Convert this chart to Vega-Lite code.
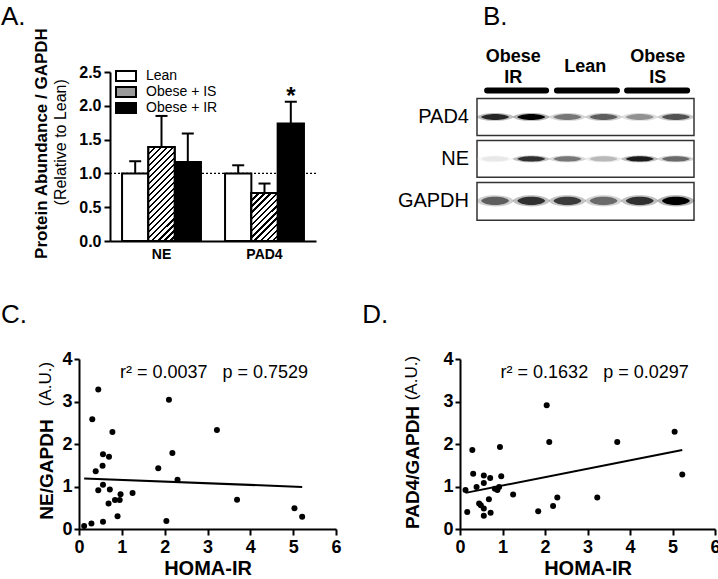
{
  "$schema": "https://vega.github.io/schema/vega-lite/v6.json",
  "background": "white",
  "padding": {"left": 0, "top": 4, "right": 0, "bottom": 0},
  "config": {
    "font": "Liberation Sans",
    "view": {"stroke": null},
    "axis": {"domainColor": "black", "domainWidth": 2, "tickColor": "black", "tickWidth": 2, "labelColor": "black", "titleColor": "black", "grid": false, "labelFont": "Liberation Sans", "titleFont": "Liberation Sans", "labelFontWeight": "bold", "titleFontWeight": "bold", "labelFlush": false, "labelOverlap": false},
    "axisY": {"tickCount": 6},
    "title": {"font": "Liberation Sans", "fontSize": 26, "fontWeight": "normal", "anchor": "start", "frame": "group", "baseline": "alphabetic", "color": "black"},
    "text": {"font": "Liberation Sans", "color": "black"}
  },
  "datasets": {
    "bars": [
      {"target": "NE", "group": "Lean", "mean": 1.0, "upper": 1.18},
      {"target": "NE", "group": "Obese + IS", "mean": 1.39, "upper": 1.85},
      {"target": "NE", "group": "Obese + IR", "mean": 1.17, "upper": 1.59},
      {"target": "PAD4", "group": "Lean", "mean": 1.0, "upper": 1.12},
      {"target": "PAD4", "group": "Obese + IS", "mean": 0.71, "upper": 0.85},
      {"target": "PAD4", "group": "Obese + IR", "mean": 1.74, "upper": 2.06}
    ],
    "blotrows": [
      {"protein": "PAD4", "row": 0, "lo": -0.44, "hi": 0.44},
      {"protein": "NE", "row": 1, "lo": 0.56, "hi": 1.44},
      {"protein": "GAPDH", "row": 2, "lo": 1.56, "hi": 2.46}
    ],
    "bands": [
      {"protein": "PAD4", "row": 0, "lane": 1, "intensity": 0.85},
      {"protein": "PAD4", "row": 0, "lane": 2, "intensity": 1.0},
      {"protein": "PAD4", "row": 0, "lane": 3, "intensity": 0.5},
      {"protein": "PAD4", "row": 0, "lane": 4, "intensity": 0.6},
      {"protein": "PAD4", "row": 0, "lane": 5, "intensity": 0.4},
      {"protein": "PAD4", "row": 0, "lane": 6, "intensity": 0.65},
      {"protein": "NE", "row": 1, "lane": 1, "intensity": 0.08},
      {"protein": "NE", "row": 1, "lane": 2, "intensity": 0.8},
      {"protein": "NE", "row": 1, "lane": 3, "intensity": 0.5},
      {"protein": "NE", "row": 1, "lane": 4, "intensity": 0.25},
      {"protein": "NE", "row": 1, "lane": 5, "intensity": 0.9},
      {"protein": "NE", "row": 1, "lane": 6, "intensity": 0.55},
      {"protein": "GAPDH", "row": 2, "lane": 1, "intensity": 0.6},
      {"protein": "GAPDH", "row": 2, "lane": 2, "intensity": 0.8},
      {"protein": "GAPDH", "row": 2, "lane": 3, "intensity": 0.75},
      {"protein": "GAPDH", "row": 2, "lane": 4, "intensity": 0.55},
      {"protein": "GAPDH", "row": 2, "lane": 5, "intensity": 0.8},
      {"protein": "GAPDH", "row": 2, "lane": 6, "intensity": 1.0}
    ],
    "headers": [
      {"label": "Obese\nIR", "start": 0.78, "end": 2.41, "mid": 1.5, "ty": -1.42},
      {"label": "Lean", "start": 2.71, "end": 4.37, "mid": 3.49, "ty": -1.18},
      {"label": "Obese\nIS", "start": 4.65, "end": 6.31, "mid": 5.5, "ty": -1.42}
    ],
    "ne": [
      {"homa": 0.12, "value": 0.07}, {"homa": 0.29, "value": 0.13}, {"homa": 0.31, "value": 2.58}, {"homa": 0.39, "value": 1.36},
      {"homa": 0.45, "value": 3.28}, {"homa": 0.45, "value": 0.91}, {"homa": 0.55, "value": 1.49}, {"homa": 0.56, "value": 1.76},
      {"homa": 0.56, "value": 1.04}, {"homa": 0.56, "value": 0.17}, {"homa": 0.7, "value": 1.7}, {"homa": 0.72, "value": 0.93},
      {"homa": 0.69, "value": 0.6}, {"homa": 0.78, "value": 2.28}, {"homa": 0.84, "value": 0.68}, {"homa": 0.95, "value": 0.68},
      {"homa": 0.97, "value": 0.82}, {"homa": 0.9, "value": 0.3}, {"homa": 1.25, "value": 0.85}, {"homa": 1.85, "value": 1.43},
      {"homa": 2.04, "value": 0.19}, {"homa": 2.1, "value": 3.04}, {"homa": 2.18, "value": 1.79}, {"homa": 2.3, "value": 1.16},
      {"homa": 3.22, "value": 2.33}, {"homa": 3.69, "value": 0.69}, {"homa": 5.03, "value": 0.49}, {"homa": 5.21, "value": 0.29}
    ],
    "nefit": [{"homa": 0.12, "value": 1.19}, {"homa": 5.21, "value": 0.99}],
    "pad4": [
      {"homa": 0.13, "value": 0.92}, {"homa": 0.17, "value": 0.4}, {"homa": 0.29, "value": 1.86}, {"homa": 0.31, "value": 1.3},
      {"homa": 0.39, "value": 0.99}, {"homa": 0.45, "value": 0.6}, {"homa": 0.49, "value": 0.56}, {"homa": 0.56, "value": 0.48},
      {"homa": 0.56, "value": 0.31}, {"homa": 0.56, "value": 1.26}, {"homa": 0.56, "value": 1.08}, {"homa": 0.71, "value": 1.2},
      {"homa": 0.68, "value": 0.7}, {"homa": 0.72, "value": 0.38}, {"homa": 0.82, "value": 0.95}, {"homa": 0.88, "value": 0.92},
      {"homa": 0.92, "value": 0.99}, {"homa": 0.94, "value": 1.93}, {"homa": 0.97, "value": 1.24}, {"homa": 1.25, "value": 0.81},
      {"homa": 1.84, "value": 0.42}, {"homa": 2.04, "value": 2.91}, {"homa": 2.1, "value": 2.05}, {"homa": 2.19, "value": 0.54},
      {"homa": 2.29, "value": 0.74}, {"homa": 3.23, "value": 0.74}, {"homa": 3.7, "value": 2.05}, {"homa": 5.05, "value": 2.29},
      {"homa": 5.23, "value": 1.28}
    ],
    "pad4fit": [{"homa": 0.13, "value": 0.85}, {"homa": 5.23, "value": 1.86}]
  },
  "spacing": 41,
  "vconcat": [
    {
      "spacing": 0,
      "hconcat": [
        {"width": 1, "height": 1, "data": {"values": [{}]}, "mark": {"type": "text", "text": ""}},
        {
          "spacing": 80,
          "hconcat": [
            {
              "width": 206,
              "height": 169,
              "title": {"text": "A.", "dx": -109, "offset": -3},
              "layer": [
                {
                  "data": {"values": [{}]},
                  "mark": {"type": "rule", "strokeDash": [2, 2], "strokeWidth": 1.2, "color": "black"},
                  "encoding": {"y": {"datum": 1, "type": "quantitative", "scale": {"domain": [0, 2.5], "nice": false},
                    "axis": {"title": "Protein Abundance / GAPDH", "values": [0, 0.5, 1, 1.5, 2, 2.5], "tickCount": 6, "format": ".1f", "labelFontSize": 16, "tickSize": 6, "labelPadding": 3, "titleFontSize": 17, "titlePadding": 28, "titleY": 71, "titleAngle": 270, "titleAlign": "center", "titleBaseline": "bottom"}}}
                },
                {
                  "data": {"name": "bars"},
                  "mark": {"type": "bar", "stroke": "black", "strokeWidth": 2},
                  "encoding": {
                    "x": {"field": "target", "type": "nominal", "scale": {"paddingInner": 0, "paddingOuter": 0},
                          "axis": {"title": null, "labelAngle": 0, "labelFontSize": 14, "ticks": false, "labelPadding": 6}},
                    "xOffset": {"field": "group", "type": "nominal", "scale": {"domain": ["Lean", "Obese + IS", "Obese + IR"], "paddingInner": 0, "paddingOuter": 0.458}},
                    "y": {"field": "mean", "type": "quantitative", "scale": {"domain": [0, 2.5], "nice": false},
                          "axis": {"title": "Protein Abundance / GAPDH", "values": [0, 0.5, 1, 1.5, 2, 2.5], "tickCount": 6, "format": ".1f", "labelFontSize": 16, "tickSize": 6, "labelPadding": 3, "titleFontSize": 17, "titlePadding": 28, "titleY": 71, "titleAngle": 270, "titleAlign": "center", "titleBaseline": "bottom"}},
                    "fill": {"field": "group", "type": "nominal",
                             "scale": {"domain": ["Lean", "Obese + IS", "Obese + IR"], "range": ["white", "#9a9a9a", "black"]},
                             "legend": {"orient": "none", "legendX": 119, "legendY": -3, "title": null, "symbolType": "M-2,-1H2V1H-2Z", "symbolSize": 100, "symbolStrokeWidth": 2, "symbolStrokeColor": "black", "labelFontSize": 14, "labelFont": "Liberation Sans", "labelColor": "black", "labelOffset": 13, "rowPadding": -4, "padding": 0}}
                  }
                },
                {
                  "data": {"name": "bars"},
                  "transform": [{"filter": "datum.group === 'Obese + IS' && datum.target === 'NE'"}],
                  "mark": {"type": "bar", "stroke": "black", "strokeWidth": 2, "fill": {"gradient": "linear", "x1": 0, "y1": 0, "x2": 0.3317, "y2": 1.1868, "stops": [
                    {"offset": 0, "color": "#000"}, {"offset": 0.02, "color": "#000"}, {"offset": 0.02, "color": "#fff"}, {"offset": 0.05, "color": "#fff"},
                    {"offset": 0.05, "color": "#000"}, {"offset": 0.07, "color": "#000"}, {"offset": 0.07, "color": "#fff"}, {"offset": 0.1, "color": "#fff"},
                    {"offset": 0.1, "color": "#000"}, {"offset": 0.12, "color": "#000"}, {"offset": 0.12, "color": "#fff"}, {"offset": 0.15, "color": "#fff"},
                    {"offset": 0.15, "color": "#000"}, {"offset": 0.17, "color": "#000"}, {"offset": 0.17, "color": "#fff"}, {"offset": 0.2, "color": "#fff"},
                    {"offset": 0.2, "color": "#000"}, {"offset": 0.22, "color": "#000"}, {"offset": 0.22, "color": "#fff"}, {"offset": 0.25, "color": "#fff"},
                    {"offset": 0.25, "color": "#000"}, {"offset": 0.27, "color": "#000"}, {"offset": 0.27, "color": "#fff"}, {"offset": 0.3, "color": "#fff"},
                    {"offset": 0.3, "color": "#000"}, {"offset": 0.32, "color": "#000"}, {"offset": 0.32, "color": "#fff"}, {"offset": 0.35, "color": "#fff"},
                    {"offset": 0.35, "color": "#000"}, {"offset": 0.37, "color": "#000"}, {"offset": 0.37, "color": "#fff"}, {"offset": 0.4, "color": "#fff"},
                    {"offset": 0.4, "color": "#000"}, {"offset": 0.42, "color": "#000"}, {"offset": 0.42, "color": "#fff"}, {"offset": 0.45, "color": "#fff"},
                    {"offset": 0.45, "color": "#000"}, {"offset": 0.47, "color": "#000"}, {"offset": 0.47, "color": "#fff"}, {"offset": 0.5, "color": "#fff"},
                    {"offset": 0.5, "color": "#000"}, {"offset": 0.52, "color": "#000"}, {"offset": 0.52, "color": "#fff"}, {"offset": 0.55, "color": "#fff"},
                    {"offset": 0.55, "color": "#000"}, {"offset": 0.57, "color": "#000"}, {"offset": 0.57, "color": "#fff"}, {"offset": 0.6, "color": "#fff"},
                    {"offset": 0.6, "color": "#000"}, {"offset": 0.62, "color": "#000"}, {"offset": 0.62, "color": "#fff"}, {"offset": 0.65, "color": "#fff"},
                    {"offset": 0.65, "color": "#000"}, {"offset": 0.67, "color": "#000"}, {"offset": 0.67, "color": "#fff"}, {"offset": 0.7, "color": "#fff"},
                    {"offset": 0.7, "color": "#000"}, {"offset": 0.72, "color": "#000"}, {"offset": 0.72, "color": "#fff"}, {"offset": 0.75, "color": "#fff"},
                    {"offset": 0.75, "color": "#000"}, {"offset": 0.77, "color": "#000"}, {"offset": 0.77, "color": "#fff"}, {"offset": 0.8, "color": "#fff"},
                    {"offset": 0.8, "color": "#000"}, {"offset": 0.82, "color": "#000"}, {"offset": 0.82, "color": "#fff"}, {"offset": 0.85, "color": "#fff"},
                    {"offset": 0.85, "color": "#000"}, {"offset": 0.87, "color": "#000"}, {"offset": 0.87, "color": "#fff"}, {"offset": 0.9, "color": "#fff"},
                    {"offset": 0.9, "color": "#000"}, {"offset": 0.92, "color": "#000"}, {"offset": 0.92, "color": "#fff"}, {"offset": 0.95, "color": "#fff"},
                    {"offset": 0.95, "color": "#000"}, {"offset": 0.97, "color": "#000"}, {"offset": 0.97, "color": "#fff"}, {"offset": 1, "color": "#fff"}]}},
                  "encoding": {
                    "x": {"field": "target", "type": "nominal"},
                    "xOffset": {"field": "group", "type": "nominal"},
                    "y": {"field": "mean", "type": "quantitative"}
                  }
                },
                {
                  "data": {"name": "bars"},
                  "transform": [{"filter": "datum.group === 'Obese + IS' && datum.target === 'PAD4'"}],
                  "mark": {"type": "bar", "stroke": "black", "strokeWidth": 2, "fill": {"gradient": "linear", "x1": 0, "y1": 0, "x2": 0.651, "y2": 1.191, "stops": [
                    {"offset": 0, "color": "#000"}, {"offset": 0.0333, "color": "#000"}, {"offset": 0.0333, "color": "#fff"}, {"offset": 0.0833, "color": "#fff"},
                    {"offset": 0.0833, "color": "#000"}, {"offset": 0.1167, "color": "#000"}, {"offset": 0.1167, "color": "#fff"}, {"offset": 0.1667, "color": "#fff"},
                    {"offset": 0.1667, "color": "#000"}, {"offset": 0.2, "color": "#000"}, {"offset": 0.2, "color": "#fff"}, {"offset": 0.25, "color": "#fff"},
                    {"offset": 0.25, "color": "#000"}, {"offset": 0.2833, "color": "#000"}, {"offset": 0.2833, "color": "#fff"}, {"offset": 0.3333, "color": "#fff"},
                    {"offset": 0.3333, "color": "#000"}, {"offset": 0.3667, "color": "#000"}, {"offset": 0.3667, "color": "#fff"}, {"offset": 0.4167, "color": "#fff"},
                    {"offset": 0.4167, "color": "#000"}, {"offset": 0.45, "color": "#000"}, {"offset": 0.45, "color": "#fff"}, {"offset": 0.5, "color": "#fff"},
                    {"offset": 0.5, "color": "#000"}, {"offset": 0.5333, "color": "#000"}, {"offset": 0.5333, "color": "#fff"}, {"offset": 0.5833, "color": "#fff"},
                    {"offset": 0.5833, "color": "#000"}, {"offset": 0.6167, "color": "#000"}, {"offset": 0.6167, "color": "#fff"}, {"offset": 0.6667, "color": "#fff"},
                    {"offset": 0.6667, "color": "#000"}, {"offset": 0.7, "color": "#000"}, {"offset": 0.7, "color": "#fff"}, {"offset": 0.75, "color": "#fff"},
                    {"offset": 0.75, "color": "#000"}, {"offset": 0.7833, "color": "#000"}, {"offset": 0.7833, "color": "#fff"}, {"offset": 0.8333, "color": "#fff"},
                    {"offset": 0.8333, "color": "#000"}, {"offset": 0.8667, "color": "#000"}, {"offset": 0.8667, "color": "#fff"}, {"offset": 0.9167, "color": "#fff"},
                    {"offset": 0.9167, "color": "#000"}, {"offset": 0.95, "color": "#000"}, {"offset": 0.95, "color": "#fff"}, {"offset": 1, "color": "#fff"}]}},
                  "encoding": {
                    "x": {"field": "target", "type": "nominal"},
                    "xOffset": {"field": "group", "type": "nominal"},
                    "y": {"field": "mean", "type": "quantitative"}
                  }
                },
                {
                  "data": {"name": "bars"},
                  "mark": {"type": "rule", "color": "black", "strokeWidth": 2},
                  "encoding": {
                    "x": {"field": "target", "type": "nominal"},
                    "xOffset": {"field": "group", "type": "nominal"},
                    "y": {"field": "mean", "type": "quantitative"},
                    "y2": {"field": "upper"}
                  }
                },
                {
                  "data": {"name": "bars"},
                  "mark": {"type": "tick", "color": "black", "thickness": 2, "size": 12, "opacity": 1},
                  "encoding": {
                    "x": {"field": "target", "type": "nominal"},
                    "xOffset": {"field": "group", "type": "nominal"},
                    "y": {"field": "upper", "type": "quantitative"}
                  }
                },
                {
                  "data": {"values": [{}]},
                  "mark": {"type": "text", "text": "*", "fontSize": 24, "fontWeight": "bold", "baseline": "alphabetic", "align": "center"},
                  "encoding": {
                    "x": {"datum": "PAD4", "type": "nominal"},
                    "xOffset": {"datum": "Obese + IR", "type": "nominal"},
                    "y": {"datum": 2.03, "type": "quantitative"}
                  }
                },
                {
                  "data": {"values": [{}]},
                  "mark": {"type": "text", "text": "(Relative to Lean)", "fontSize": 16, "angle": 270, "align": "center", "baseline": "middle", "dy": -100.5},
                  "encoding": {
                    "x": {"datum": "NE", "type": "nominal"},
                    "y": {"datum": 1.46, "type": "quantitative"}
                  }
                }
              ]
            },
            {
              "width": 217,
              "height": 169,
              "title": {"text": "B.", "dx": 6, "offset": 18},
              "layer": [
                {
                  "data": {"name": "blotrows"},
                  "mark": {"type": "rect", "fill": "white", "stroke": "#333", "strokeWidth": 1.5},
                  "encoding": {
                    "x": {"datum": 0.5, "type": "quantitative", "scale": {"domain": [0.5, 6.5], "nice": false, "zero": false}, "axis": null},
                    "x2": {"datum": 6.5},
                    "y": {"field": "lo", "type": "quantitative", "scale": {"domain": [-1.071, 2.957], "nice": false, "zero": false, "reverse": true}, "axis": null},
                    "y2": {"field": "hi"}
                  }
                },
                {
                  "data": {"name": "bands"},
                  "mark": {"type": "point", "filled": true, "size": 1400, "opacity": 0.3, "strokeWidth": 0},
                  "encoding": {
                    "x": {"field": "lane", "type": "quantitative"},
                    "y": {"field": "row", "type": "quantitative"},
                    "shape": {"field": "protein", "type": "nominal", "scale": {"domain": ["PAD4", "NE", "GAPDH"], "range": ["M-1,0C-0.7,-0.28 0.7,-0.28 1,0C0.7,0.28 -0.7,0.28 -1,0Z", "M-1,0C-0.7,-0.24 0.7,-0.24 1,0C0.7,0.24 -0.7,0.24 -1,0Z", "M-1,0C-0.8,-0.4 0.8,-0.4 1,0C0.8,0.4 -0.8,0.4 -1,0Z"]}, "legend": null},
                    "color": {"field": "intensity", "type": "quantitative", "scale": {"domain": [0, 1], "range": ["#ffffff", "#000000"]}, "legend": null}
                  }
                },
                {
                  "data": {"name": "bands"},
                  "mark": {"type": "point", "filled": true, "size": 784, "opacity": 1, "strokeWidth": 0},
                  "encoding": {
                    "x": {"field": "lane", "type": "quantitative"},
                    "y": {"field": "row", "type": "quantitative"},
                    "shape": {"field": "protein", "type": "nominal", "legend": null},
                    "color": {"field": "intensity", "type": "quantitative", "legend": null}
                  }
                },
                {
                  "data": {"name": "blotrows"},
                  "mark": {"type": "text", "align": "right", "baseline": "middle", "dx": -8, "fontSize": 20},
                  "encoding": {
                    "x": {"datum": 0.5, "type": "quantitative"},
                    "y": {"field": "row", "type": "quantitative"},
                    "text": {"field": "protein"}
                  }
                },
                {
                  "data": {"name": "headers"},
                  "mark": {"type": "rule", "color": "black", "strokeWidth": 6, "strokeCap": "round"},
                  "encoding": {
                    "x": {"field": "start", "type": "quantitative"},
                    "x2": {"field": "end"},
                    "y": {"datum": -0.63, "type": "quantitative"}
                  }
                },
                {
                  "data": {"name": "headers"},
                  "mark": {"type": "text", "align": "center", "baseline": "middle", "fontSize": 18, "fontWeight": "bold", "lineBreak": "\n", "lineHeight": 21},
                  "encoding": {
                    "x": {"field": "mid", "type": "quantitative"},
                    "y": {"field": "ty", "type": "quantitative"},
                    "text": {"field": "label"}
                  }
                }
              ]
            }
          ]
        }
      ]
    },
    {
      "spacing": 0,
      "hconcat": [
        {"width": 1, "height": 1, "data": {"values": [{}]}, "mark": {"type": "text", "text": ""}},
        {
          "spacing": 20,
          "hconcat": [
            {
              "width": 257,
              "height": 170,
              "title": {"text": "C.", "dx": -78, "offset": 22},
              "layer": [
                {
                  "data": {"name": "ne"},
                  "mark": {"type": "circle", "size": 36, "color": "black", "opacity": 1},
                  "encoding": {
                    "x": {"field": "homa", "type": "quantitative", "scale": {"domain": [0, 6], "nice": false},
                          "axis": {"title": "HOMA-IR", "values": [0, 1, 2, 3, 4, 5, 6], "format": "d", "labelFontSize": 18, "tickSize": 6, "labelPadding": 3, "titleFontSize": 20, "titlePadding": 2}},
                    "y": {"field": "value", "type": "quantitative", "scale": {"domain": [0, 4], "nice": false},
                          "axis": {"title": "NE/GAPDH", "values": [0, 1, 2, 3, 4], "format": "d", "labelFontSize": 18, "tickSize": 5, "labelPadding": 2, "titleFontSize": 19, "titlePadding": 5, "titleY": 110, "titleAngle": 270, "titleAlign": "center", "titleBaseline": "bottom"}}
                  }
                },
                {
                  "data": {"name": "nefit"},
                  "mark": {"type": "line", "color": "black", "strokeWidth": 2},
                  "encoding": {
                    "x": {"field": "homa", "type": "quantitative"},
                    "y": {"field": "value", "type": "quantitative"}
                  }
                },
                {
                  "data": {"values": [{}]},
                  "mark": {"type": "text", "text": "r² = 0.0037\u00a0\u00a0\u00a0p = 0.7529", "fontSize": 18, "align": "left", "baseline": "alphabetic"},
                  "encoding": {
                    "x": {"datum": 0.957, "type": "quantitative"},
                    "y": {"datum": 3.546, "type": "quantitative"}
                  }
                },
                {
                  "data": {"values": [{}]},
                  "mark": {"type": "text", "text": "(A.U.)", "fontSize": 17, "angle": 270, "align": "center", "baseline": "middle", "dy": -33},
                  "encoding": {
                    "x": {"datum": 0, "type": "quantitative"},
                    "y": {"datum": 3.41, "type": "quantitative"}
                  }
                }
              ]
            },
            {
              "width": 255,
              "height": 170,
              "title": {"text": "D.", "dx": -97.7, "offset": 22},
              "layer": [
                {
                  "data": {"name": "pad4"},
                  "mark": {"type": "circle", "size": 36, "color": "black", "opacity": 1},
                  "encoding": {
                    "x": {"field": "homa", "type": "quantitative", "scale": {"domain": [0, 6], "nice": false},
                          "axis": {"title": "HOMA-IR", "values": [0, 1, 2, 3, 4, 5, 6], "format": "d", "labelFontSize": 18, "tickSize": 6, "labelPadding": 3, "titleFontSize": 20, "titlePadding": 2}},
                    "y": {"field": "value", "type": "quantitative", "scale": {"domain": [0, 4], "nice": false},
                          "axis": {"title": "PAD4/GAPDH", "values": [0, 1, 2, 3, 4], "format": "d", "labelFontSize": 18, "tickSize": 5, "labelPadding": 2, "titleFontSize": 19, "titlePadding": 20, "titleY": 108, "titleAngle": 270, "titleAlign": "center", "titleBaseline": "bottom"}}
                  }
                },
                {
                  "data": {"name": "pad4fit"},
                  "mark": {"type": "line", "color": "black", "strokeWidth": 2},
                  "encoding": {
                    "x": {"field": "homa", "type": "quantitative"},
                    "y": {"field": "value", "type": "quantitative"}
                  }
                },
                {
                  "data": {"values": [{}]},
                  "mark": {"type": "text", "text": "r² = 0.1632\u00a0\u00a0\u00a0p = 0.0297", "fontSize": 18, "align": "left", "baseline": "alphabetic"},
                  "encoding": {
                    "x": {"datum": 0.955, "type": "quantitative"},
                    "y": {"datum": 3.546, "type": "quantitative"}
                  }
                },
                {
                  "data": {"values": [{}]},
                  "mark": {"type": "text", "text": "(A.U.)", "fontSize": 17, "angle": 270, "align": "center", "baseline": "middle", "dy": -48},
                  "encoding": {
                    "x": {"datum": 0, "type": "quantitative"},
                    "y": {"datum": 3.55, "type": "quantitative"}
                  }
                }
              ]
            }
          ]
        }
      ]
    }
  ]
}
